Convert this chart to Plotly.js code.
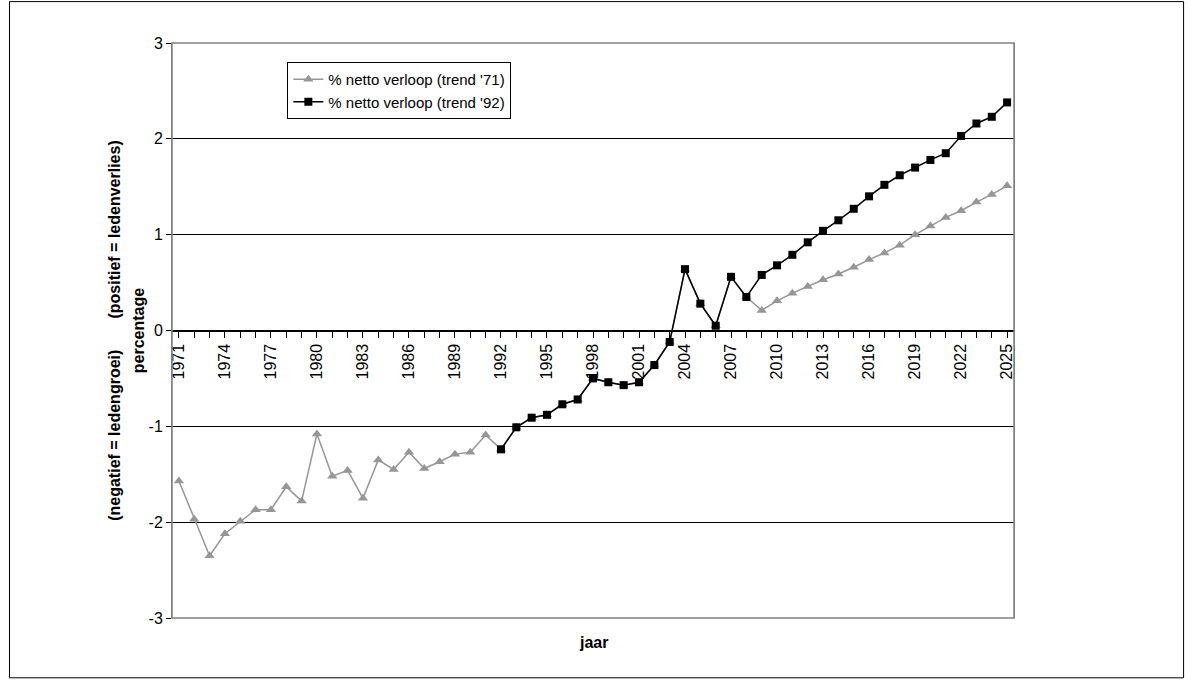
<!DOCTYPE html>
<html>
<head>
<meta charset="utf-8">
<script src="https://cdn.plot.ly/plotly-3.0.1.min.js"></script>
<style>body{margin:0;background:#fff}</style>
</head>
<body>
<div id="chart" style="width:1194px;height:680px"></div>
<script>
const years = [];
for (let y = 1971; y <= 2025; y++) years.push(y);

const trend71 = [
  -1.57, -1.97, -2.35, -2.12, -1.99, -1.87, -1.87, -1.63, -1.78, -1.08,
  -1.52, -1.46, -1.75, -1.35, -1.45, -1.27, -1.44, -1.37, -1.29, -1.27,
  -1.09, -1.24, -1.01, -0.91, -0.88, -0.77, -0.72, -0.50, -0.54, -0.57,
  -0.54, -0.36, -0.12, 0.64, 0.28, 0.05, 0.56, 0.35, 0.21, 0.31,
  0.39, 0.46, 0.53, 0.59, 0.66, 0.74, 0.81, 0.89, 1.00, 1.09,
  1.18, 1.25, 1.34, 1.42, 1.51
];
const years92 = years.filter(y => y >= 1992);
const trend92 = [
  -1.24, -1.01, -0.91, -0.88, -0.77, -0.72, -0.50, -0.54, -0.57, -0.54,
  -0.36, -0.12, 0.64, 0.28, 0.05, 0.56, 0.35, 0.58, 0.68, 0.79,
  0.92, 1.04, 1.15, 1.27, 1.40, 1.52, 1.62, 1.70, 1.78, 1.85,
  2.03, 2.16, 2.23, 2.38
];
const yTickVals = [-3, -2, -1, 0, 1, 2, 3];
const yTickText = ["-3", "-2", "-1", "0", "1", "2", "3"];

const data = [
  {
    x: years, y: trend71, name: "% netto verloop (trend '71)",
    mode: "lines+markers", type: "scatter",
    line: { color: "#969696", width: 1.5 },
    marker: { symbol: "triangle-up", color: "#969696", size: 9 }
  },
  {
    x: years92, y: trend92, name: "% netto verloop (trend '92)",
    mode: "lines+markers", type: "scatter",
    line: { color: "#000", width: 1.5 },
    marker: { symbol: "square", color: "#000", size: 8 }
  }
];

const layout = {
  width: 1194, height: 680,
  margin: { l: 172, r: 180, t: 43, b: 62 },
  paper_bgcolor: "#fff", plot_bgcolor: "#fff",
  font: { family: "Liberation Sans, Arial", size: 16, color: "#000" },
  showlegend: true,
  legend: {
    x: 0.137, y: 0.967, xanchor: "left", yanchor: "top",
    bgcolor: "#fff", bordercolor: "#000", borderwidth: 1,
    font: { size: 15 }, tracegroupgap: 4
  },
  xaxis: {
    range: [1970.55, 2025.45], anchor: "free", position: 0.5,
    tick0: 1971, dtick: 3, tickangle: -90,
    ticks: "outside", ticklen: 6, tickcolor: "#000",
    minor: { dtick: 1, ticks: "outside", ticklen: 6, tickcolor: "#000" },
    showline: true, linecolor: "#000", linewidth: 1,
    showgrid: false, zeroline: false, tickfont: { size: 16 }
  },
  yaxis: {
    range: [-3, 3], tickvals: yTickVals, ticktext: yTickText,
    showgrid: true, gridcolor: "#000", gridwidth: 1,
    zeroline: false, ticks: "outside", ticklen: 5, tickcolor: "#000",
    showline: true, linecolor: "#808080", mirror: true, tickfont: { size: 16 }
  },
  shapes: [
    { type: "rect", xref: "paper", yref: "paper", x0: 0, x1: 1, y0: 0, y1: 1,
      line: { color: "#808080", width: 1.5 } },
    { type: "rect", xref: "paper", yref: "paper", x0: -0.193, x1: 1.2014, y0: -0.104, y1: 1.072,
      line: { color: "#000", width: 1 } }
  ],
  annotations: [
    { xref: "paper", yref: "paper", x: -0.081, y: 0.5, text: "(negatief = ledengroei)       (positief = ledenverlies)",
      textangle: -90, showarrow: false, font: { size: 16, weight: "bold" } },
    { xref: "paper", yref: "paper", x: -0.052, y: 0.5, text: "percentage",
      textangle: -90, showarrow: false, font: { size: 16, weight: "bold" } },
    { xref: "paper", yref: "paper", x: 0.5, y: -0.06, text: "jaar",
      showarrow: false, font: { size: 16, weight: "bold" } }
  ]
};

Plotly.newPlot("chart", data, layout, { displayModeBar: false });
</script>
</body>
</html>
